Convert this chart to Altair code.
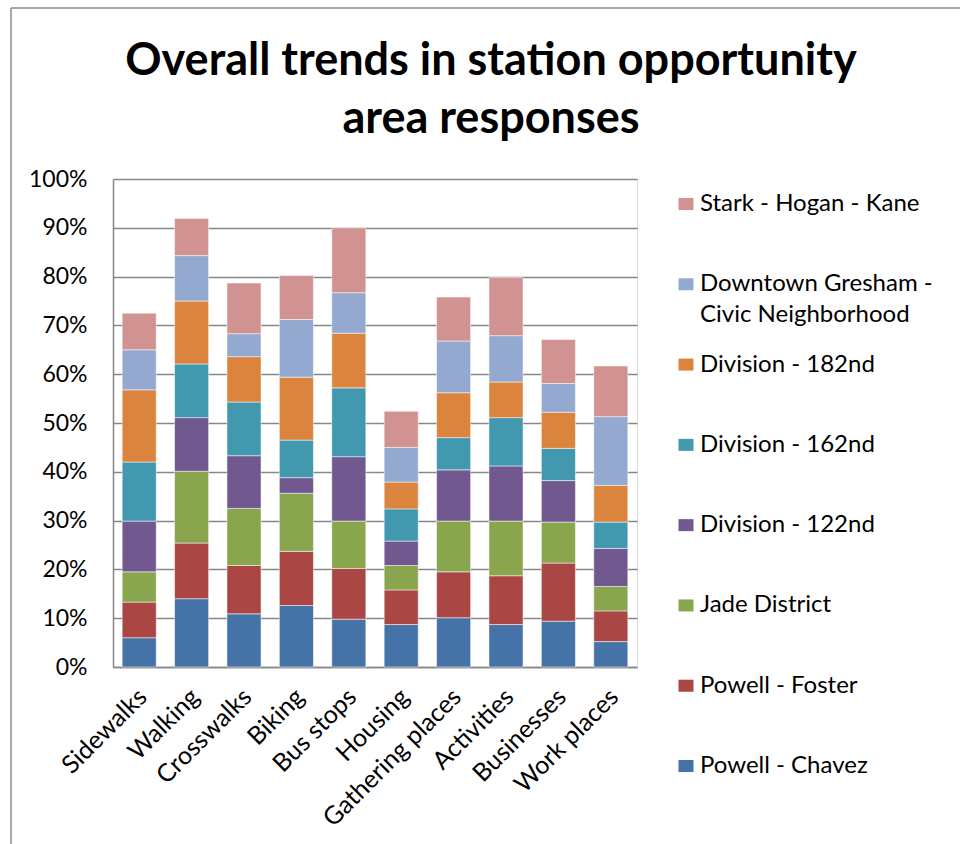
import altair as alt
import pandas as pd

title_lines = ["Overall trends in station opportunity", "area responses"]

categories = ["Sidewalks", "Walking", "Crosswalks", "Biking", "Bus stops",
              "Housing", "Gathering places", "Activities", "Businesses", "Work places"]

# stacking order: bottom -> top
series = ["Powell - Chavez", "Powell - Foster", "Jade District", "Division - 122nd",
          "Division - 162nd", "Division - 182nd",
          "Downtown Gresham - Civic Neighborhood", "Stark - Hogan - Kane"]

powell_chavez = [6.0, 14.0, 10.9, 12.6, 9.8, 8.7, 10.1, 8.7, 9.4, 5.2]
powell_foster = [7.3, 11.4, 9.9, 11.1, 10.4, 7.1, 9.4, 10.0, 11.9, 6.3]
jade_district = [6.2, 14.7, 11.7, 11.9, 9.7, 5.0, 10.4, 11.2, 8.4, 5.0]
division_122 = [10.4, 11.0, 10.8, 3.2, 13.2, 5.0, 10.5, 11.3, 8.5, 7.8]
division_162 = [12.1, 11.0, 11.0, 7.7, 14.1, 6.6, 6.6, 9.9, 6.6, 5.4]
division_182 = [14.8, 12.9, 9.3, 12.9, 11.2, 5.5, 9.2, 7.3, 7.4, 7.5]
downtown_gresham = [8.2, 9.3, 4.7, 11.8, 8.3, 7.1, 10.6, 9.5, 5.9, 14.1]
stark_hogan_kane = [7.5, 7.6, 10.4, 9.0, 13.3, 7.4, 9.0, 11.9, 9.0, 10.4]

colors = ["#4572A7", "#AA4643", "#89A54E", "#71588F",
          "#4198AF", "#DB843D", "#93A9CF", "#D19392"]

legend_labels = {
    "Stark - Hogan - Kane": "Stark - Hogan - Kane",
    "Downtown Gresham - Civic Neighborhood": "\u2002Downtown Gresham -\nCivic Neighborhood",
    "Division - 182nd": "\u2002Division - 182nd",
    "Division - 162nd": "Division - 162nd",
    "Division - 122nd": "Division - 122nd",
    "Jade District": "Jade District",
    "Powell - Foster": "Powell - Foster",
    "Powell - Chavez": "Powell - Chavez",
}

values = [powell_chavez, powell_foster, jade_district, division_122,
          division_162, division_182, downtown_gresham, stark_hogan_kane]

rows = []
for si, (s, vals) in enumerate(zip(series, values)):
    for c, v in zip(categories, vals):
        rows.append({"category": c, "series": s, "order": si, "value": v / 100.0})
df = pd.DataFrame(rows)

legend_order = list(reversed(series))
legend_df = pd.DataFrame({"series": legend_order,
                          "label": [legend_labels[s] for s in legend_order]})
frame_df = pd.DataFrame({"k": [0]})
title_df = pd.DataFrame({"t": ["\n".join(title_lines)]})

FONT = "Lato"
W, H = 524, 488

color_scale = alt.Scale(domain=series, range=colors)

bars = alt.Chart(df).mark_bar(stroke="white", strokeWidth=1, strokeOpacity=0.5).encode(
    x=alt.X("category:N", sort=categories, title=None,
            scale=alt.Scale(paddingInner=0.35, paddingOuter=0.175),
            axis=alt.Axis(labelAngle=-45, labelAlign="right", labelBaseline="top",
                          labelFontSize=25, labelFont=FONT, labelColor="black",
                          labelPadding=17, labelOffset=-5, ticks=False,
                          domainColor="#868686", domainWidth=1.5, labelLimit=300)),
    y=alt.Y("value:Q", stack="zero", title=None,
            scale=alt.Scale(domain=[0, 1], nice=False),
            axis=alt.Axis(format="%", values=[i / 10 for i in range(11)],
                          labelFontSize=23, labelFont=FONT, labelColor="black",
                          labelPadding=26, ticks=False, grid=True,
                          gridColor="#868686", gridWidth=1.5,
                          domainColor="#868686", domainWidth=1.5)),
    color=alt.Color("series:N", scale=color_scale, legend=None),
    order=alt.Order("order:Q", sort="ascending"),
)

legend_y = alt.Y("series:N", sort=legend_order, axis=None,
                 scale=alt.Scale(domain=legend_order, range=[25, 587], padding=0))

swatches = alt.Chart(legend_df).mark_point(
    shape="M-1,-0.8H1V0.8H-1Z", filled=True, opacity=1, size=225
).encode(
    x=alt.value(573),
    y=legend_y,
    color=alt.Color("series:N", scale=color_scale, legend=None),
)

labels = alt.Chart(legend_df).mark_text(
    align="left", baseline="middle", fontSize=24, font=FONT, color="black",
    lineBreak="\n", lineHeight=31
).encode(
    x=alt.value(587),
    y=legend_y,
    text="label:N",
)

title = alt.Chart(title_df).mark_text(
    align="center", baseline="alphabetic", fontSize=45, font=FONT,
    fontWeight="bold", color="black", lineBreak="\n", lineHeight=58
).encode(
    x=alt.value(378), y=alt.value(-104), text="t:N"
)

frame_left = alt.Chart(frame_df).mark_rule(color="#8c8c8c", strokeWidth=1.5).encode(
    x=alt.value(-102), y=alt.value(-171), y2=alt.value(700)
)
frame_top = alt.Chart(frame_df).mark_rule(color="#8c8c8c", strokeWidth=1.5).encode(
    x=alt.value(-102), x2=alt.value(860), y=alt.value(-171)
)

chart = alt.layer(bars, swatches, labels, title, frame_left, frame_top).resolve_scale(
    y="independent"
).properties(
    width=W, height=H,
    padding={"left": 113, "top": 179, "right": 323, "bottom": 177},
    autosize=alt.AutoSizeParams(type="none"),
).configure_view(stroke=None).configure(background="white")

chart.save("out.html", embed_options={"renderer": "svg", "actions": False})
